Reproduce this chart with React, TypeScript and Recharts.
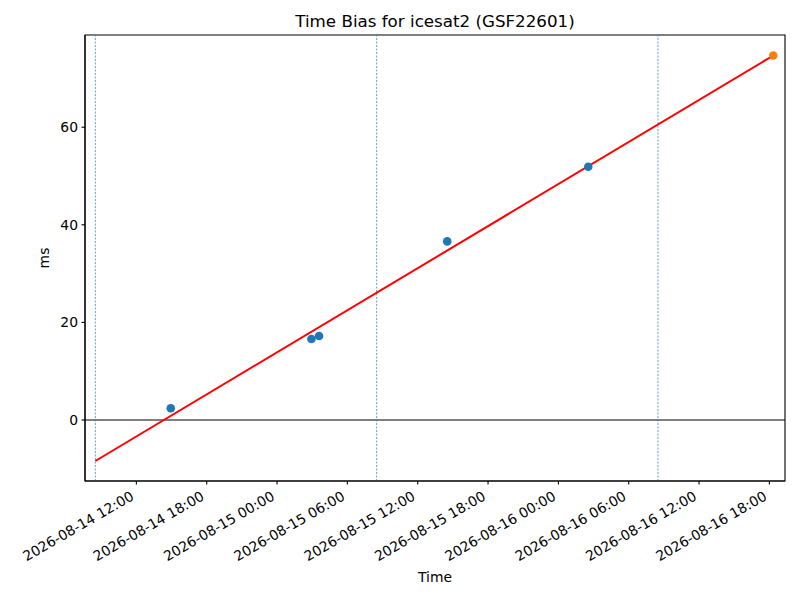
import { ComposedChart, Line, Scatter, XAxis, YAxis, ReferenceLine, ReferenceArea } from "recharts";

const toMs = (s: string) => Date.parse(s.replace(" ", "T") + ":00Z");
const pad = (n: number) => String(n).padStart(2, "0");
const fmtTime = (ms: number) => {
  const d = new Date(ms);
  return `${d.getUTCFullYear()}-${pad(d.getUTCMonth() + 1)}-${pad(d.getUTCDate())} ${pad(d.getUTCHours())}:${pad(d.getUTCMinutes())}`;
};

// measured observations (blue)
const obsTimes = ["2026-08-14 14:56", "2026-08-15 02:56", "2026-08-15 03:35", "2026-08-15 14:31", "2026-08-16 02:33"];
const obsBias = [2.4, 16.6, 17.2, 36.6, 51.9];

// predicted value (orange)
const predTimes = ["2026-08-16 18:20"];
const predBias = [74.7];

// fitted trend line endpoints
const fitTimes = ["2026-08-14 08:30", "2026-08-16 18:20"];
const fitBias = [-8.4, 74.7];

// dotted day markers
const markerTimes = ["2026-08-14 08:30", "2026-08-15 08:30", "2026-08-16 08:30"];

const xTickLabels = [
  "2026-08-14 12:00", "2026-08-14 18:00", "2026-08-15 00:00", "2026-08-15 06:00", "2026-08-15 12:00",
  "2026-08-15 18:00", "2026-08-16 00:00", "2026-08-16 06:00", "2026-08-16 12:00", "2026-08-16 18:00",
];
const yTicks = [0, 20, 40, 60];

const xMin = toMs("2026-08-14 07:37");
const xMax = toMs("2026-08-16 19:20");
const yMin = -12.5;
const yMax = 78.9;

const obsData = obsTimes.map((t, i) => ({ t: toMs(t), v: obsBias[i] }));
const predData = predTimes.map((t, i) => ({ t: toMs(t), v: predBias[i] }));
const fitData = fitTimes.map((t, i) => ({ t: toMs(t), v: fitBias[i] }));

const FONT = "DejaVu Sans, sans-serif";

const RotTick = (props: any) => {
  const { x, y, payload } = props;
  return (
    <g transform={`translate(${x},${y})`}>
      <text x={-1.5} y={14.5} textAnchor="end" transform="rotate(-30, -1.5, 14.5)" fontSize={13.9} fontFamily={FONT} fill="#000">
        {fmtTime(payload.value)}
      </text>
    </g>
  );
};

const dot = (color: string) => (props: any) => <circle cx={props.cx} cy={props.cy} r={4.3} fill={color} />;

export default function App() {
  return (
    <div style={{ position: "absolute", left: 0, top: 0, width: 800, height: 600, background: "#fff", fontFamily: FONT }}>
      <div style={{ position: "absolute", left: 85, width: 700, top: 11, textAlign: "center", fontSize: 16.7, color: "#000" }}>
        Time Bias for icesat2 (GSF22601)
      </div>
      <ComposedChart width={800} height={600} margin={{ top: 35, right: 15, bottom: 0, left: 0 }}>
        <XAxis
          dataKey="t"
          type="number"
          domain={[xMin, xMax]}
          allowDataOverflow
          ticks={xTickLabels.map(toMs)}
          interval={0}
          tick={<RotTick />}
          tickSize={3.5}
          tickMargin={0}
          height={119}
          axisLine={{ stroke: "#000", strokeWidth: 1.1 }}
          tickLine={{ stroke: "#000", strokeWidth: 1.1 }}
          label={{
            content: (p: any) => {
              const vb = p.viewBox;
              return (
                <text x={vb.x + vb.width / 2} y={582} textAnchor="middle" fontSize={13.9} fontFamily={FONT} fill="#000">
                  Time
                </text>
              );
            },
          }}
        />
        <YAxis
          dataKey="v"
          type="number"
          domain={[yMin, yMax]}
          allowDataOverflow
          ticks={yTicks}
          interval={0}
          width={85}
          tickSize={3.5}
          tickMargin={3.5}
          tick={{ fontSize: 13.9, fontFamily: FONT, fill: "#000" }}
          axisLine={{ stroke: "#000", strokeWidth: 1.1 }}
          tickLine={{ stroke: "#000", strokeWidth: 1.1 }}
          label={{
            content: () => (
              <text x={49} y={258} textAnchor="middle" transform="rotate(-90, 49, 258)" fontSize={13.9} fontFamily={FONT} fill="#000">
                ms
              </text>
            ),
          }}
        />
        <ReferenceArea x1={xMin} x2={xMax} y1={yMin} y2={yMax} fill="none" stroke="#000" strokeWidth={1.1} fillOpacity={0} />
        <ReferenceLine y={0} stroke="#000" strokeWidth={1} />
        {markerTimes.map((t) => (
          <ReferenceLine key={t} x={toMs(t)} stroke="#1f77b4" strokeWidth={0.7} strokeDasharray="2 1.5" />
        ))}
        <Line data={fitData} dataKey="v" stroke="#ff0000" strokeWidth={2} dot={false} activeDot={false} isAnimationActive={false} />
        <Scatter data={obsData} dataKey="v" fill="#1f77b4" shape={dot("#1f77b4")} isAnimationActive={false} />
        <Scatter data={predData} dataKey="v" fill="#ff7f0e" shape={dot("#ff7f0e")} isAnimationActive={false} />
      </ComposedChart>
    </div>
  );
}
